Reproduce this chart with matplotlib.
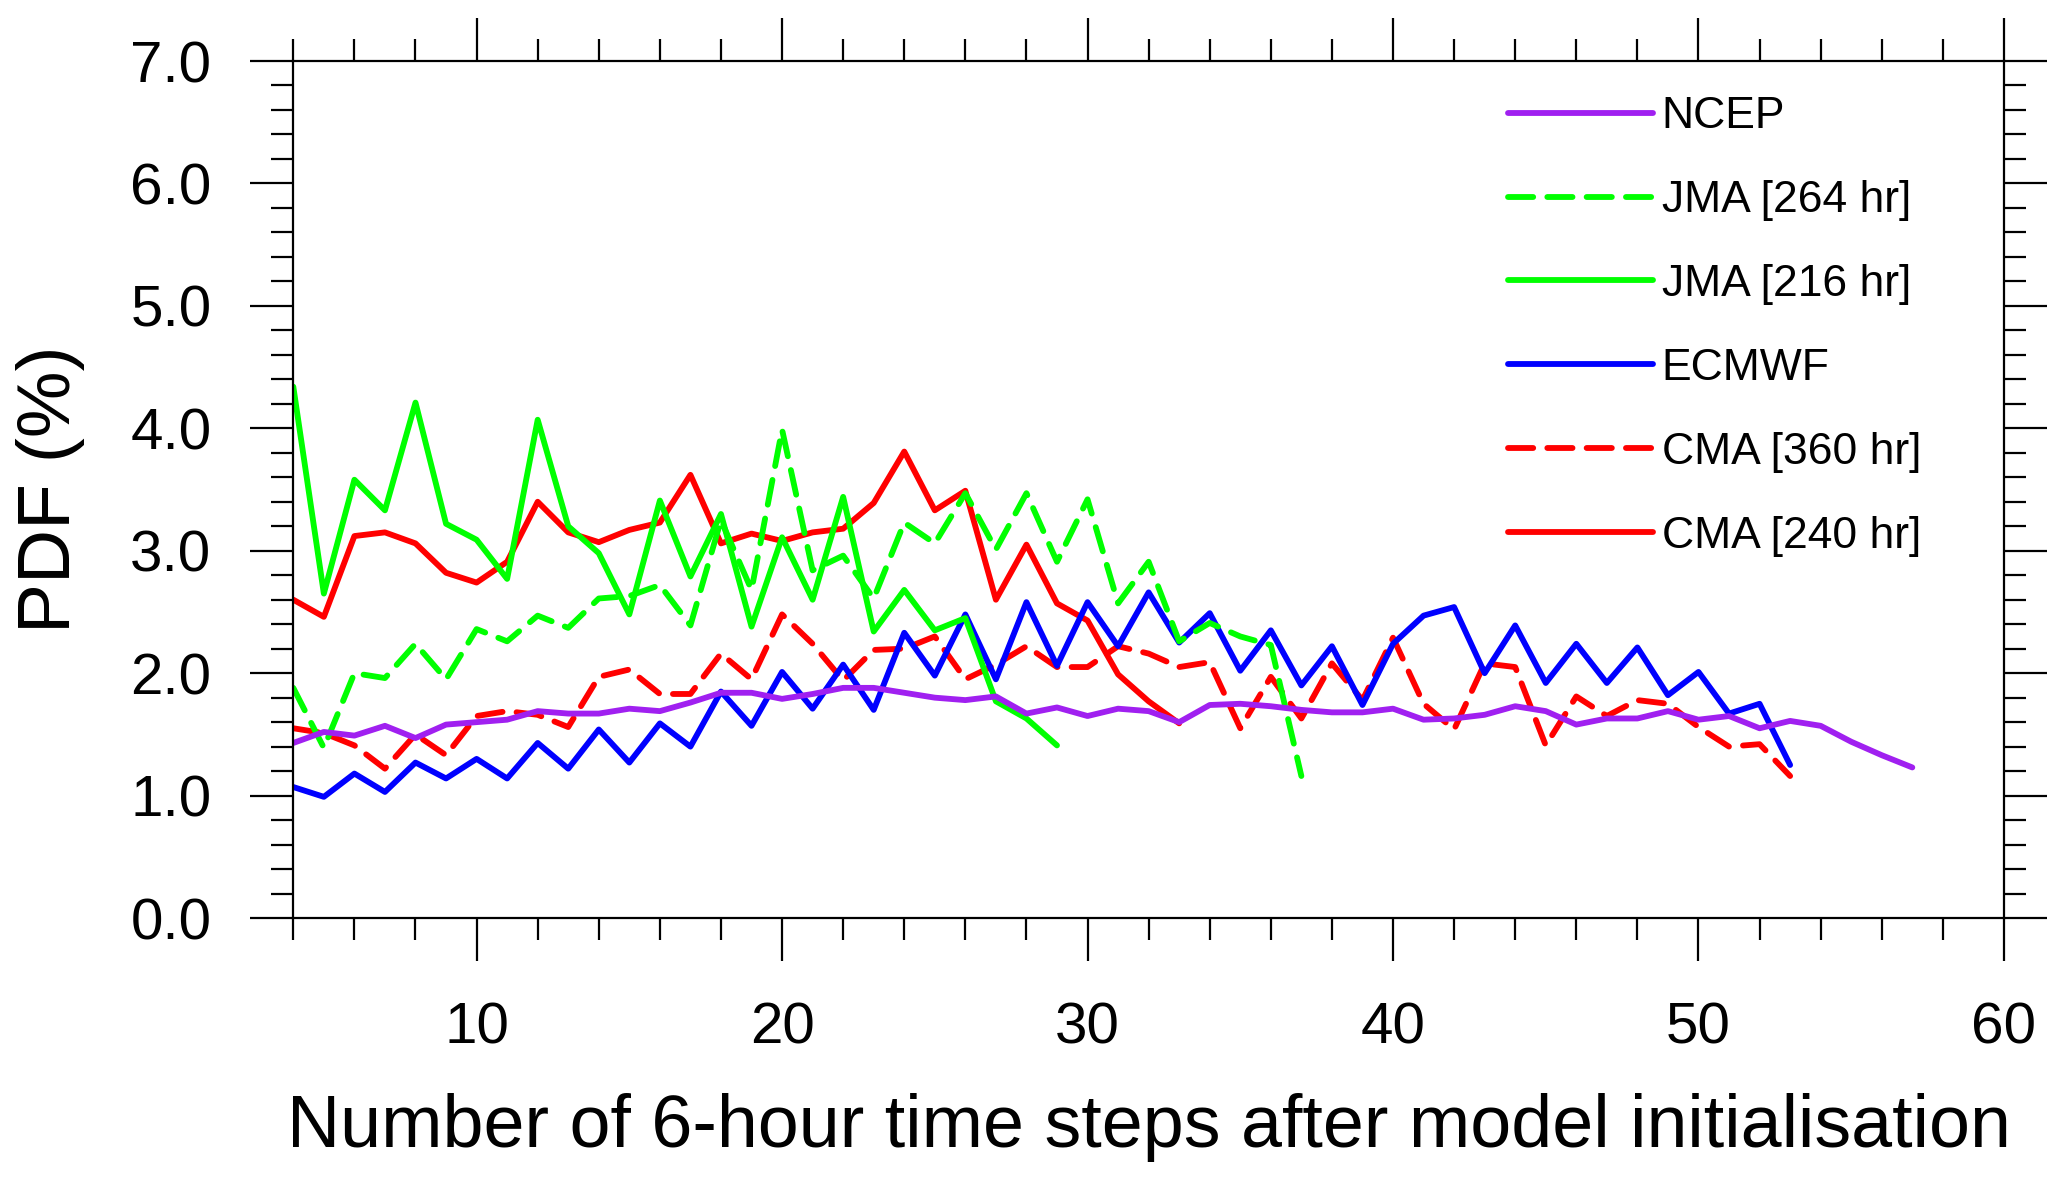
import numpy as np
import matplotlib
matplotlib.use("Agg")
import matplotlib.pyplot as plt
from matplotlib.ticker import MultipleLocator, FormatStrFormatter

plt.rcParams['font.family'] = ['Liberation Sans', 'DejaVu Sans']

# forecast step (6-hourly) and PDF values (%) for each model
ncep_x = np.arange(4, 58)
ncep = [1.43, 1.52, 1.49, 1.57, 1.47, 1.58, 1.60, 1.62, 1.69, 1.67, 1.67, 1.71, 1.69,
        1.76, 1.84, 1.84, 1.79, 1.83, 1.88, 1.88, 1.84, 1.80, 1.78, 1.81, 1.67, 1.72,
        1.65, 1.71, 1.69, 1.60, 1.74, 1.75, 1.73, 1.70, 1.68, 1.68, 1.71, 1.62, 1.63,
        1.66, 1.73, 1.69, 1.58, 1.63, 1.63, 1.69, 1.62, 1.65, 1.55, 1.61, 1.57, 1.44,
        1.33, 1.23]

jma264_x = np.arange(4, 38)
jma264 = [1.88, 1.39, 2.00, 1.96, 2.24, 1.95, 2.36, 2.26, 2.47, 2.37, 2.61, 2.63, 2.72,
          2.39, 3.25, 2.68, 3.99, 2.84, 2.96, 2.61, 3.23, 3.06, 3.47, 3.01, 3.47, 2.91,
          3.42, 2.57, 2.91, 2.26, 2.41, 2.30, 2.23, 1.16]

jma216_x = np.arange(4, 30)
jma216 = [4.34, 2.65, 3.58, 3.33, 4.21, 3.22, 3.09, 2.77, 4.07, 3.20, 2.98, 2.48, 3.41,
          2.79, 3.30, 2.38, 3.11, 2.60, 3.44, 2.34, 2.68, 2.35, 2.45, 1.77, 1.63, 1.41]

ecmwf_x = np.arange(4, 54)
ecmwf = [1.07, 0.99, 1.18, 1.03, 1.27, 1.14, 1.30, 1.14, 1.43, 1.22, 1.54, 1.27, 1.59,
         1.40, 1.85, 1.57, 2.01, 1.71, 2.07, 1.70, 2.33, 1.98, 2.48, 1.95, 2.58, 2.06,
         2.58, 2.22, 2.66, 2.25, 2.49, 2.02, 2.35, 1.90, 2.22, 1.74, 2.24, 2.47, 2.54,
         2.00, 2.39, 1.92, 2.24, 1.92, 2.21, 1.82, 2.01, 1.67, 1.75, 1.25]

cma360_x = np.arange(4, 54)
cma360 = [1.55, 1.51, 1.41, 1.22, 1.50, 1.33, 1.65, 1.69, 1.66, 1.56, 1.97, 2.03, 1.83,
          1.83, 2.16, 1.95, 2.48, 2.24, 1.94, 2.19, 2.20, 2.30, 1.95, 2.07, 2.22, 2.05,
          2.05, 2.22, 2.16, 2.05, 2.09, 1.55, 1.97, 1.63, 2.08, 1.78, 2.29, 1.75, 1.54,
          2.08, 2.05, 1.41, 1.81, 1.65, 1.78, 1.75, 1.56, 1.40, 1.42, 1.16]

cma240_x = np.arange(4, 34)
cma240 = [2.60, 2.46, 3.12, 3.15, 3.06, 2.82, 2.74, 2.91, 3.40, 3.15, 3.07, 3.17, 3.23,
          3.62, 3.06, 3.14, 3.08, 3.15, 3.18, 3.39, 3.81, 3.33, 3.49, 2.60, 3.05, 2.57,
          2.43, 1.99, 1.77, 1.59]

labels = ["NCEP", "JMA [264 hr]", "JMA [216 hr]", "ECMWF", "CMA [360 hr]", "CMA [240 hr]"]

fig = plt.figure(figsize=(20.67, 11.8), dpi=100)
ax = fig.add_axes([0.1419, 0.2220, 0.9695 - 0.1419, 0.9483 - 0.2220])

lw = 4.2
dash = (0, (4.32, 2.42))
common = dict(lw=lw, solid_capstyle='round', dash_capstyle='round', solid_joinstyle='round')

l6, = ax.plot(cma240_x, cma240, color='#ff0000', ls='-', **common)
l5, = ax.plot(cma360_x, cma360, color='#ff0000', ls=dash, **common)
l4, = ax.plot(ecmwf_x, ecmwf, color='#0000ff', ls='-', **common)
l3, = ax.plot(jma216_x, jma216, color='#00ff00', ls='-', **common)
l2, = ax.plot(jma264_x, jma264, color='#00ff00', ls=dash, **common)
l1, = ax.plot(ncep_x, ncep, color='#a020f0', ls='-', **common)

ax.set_xlim(4, 60)
ax.set_ylim(0, 7)

ax.xaxis.set_major_locator(MultipleLocator(10))
ax.xaxis.set_minor_locator(MultipleLocator(2))
ax.yaxis.set_major_locator(MultipleLocator(1))
ax.yaxis.set_minor_locator(MultipleLocator(0.2))
ax.yaxis.set_major_formatter(FormatStrFormatter('%.1f'))

for s in ax.spines.values():
    s.set_linewidth(1.6)

ax.tick_params(which='both', direction='out', top=True, right=True, width=1.6)
ax.tick_params(which='major', length=31)
ax.tick_params(which='minor', length=15.5)
ax.tick_params(axis='x', which='major', labelsize=42, pad=29)
ax.tick_params(axis='y', which='major', labelsize=42, pad=28)

ax.set_xlabel("Number of 6-hour time steps after model initialisation", fontsize=53, va='baseline')
ax.xaxis.set_label_coords(0.5, -0.267)
ax.set_ylabel("PDF (%)", fontsize=54)
ax.yaxis.set_label_coords(-0.122, 0.5)

ax.legend([l1, l2, l3, l4, l5, l6], labels, loc='upper left', bbox_to_anchor=(0.7101, 0.959),
          frameon=False, fontsize=32, handlelength=3.26, handletextpad=0.2,
          labelspacing=0.966, borderpad=0, borderaxespad=0)

fig.savefig("out.png", dpi=100)
